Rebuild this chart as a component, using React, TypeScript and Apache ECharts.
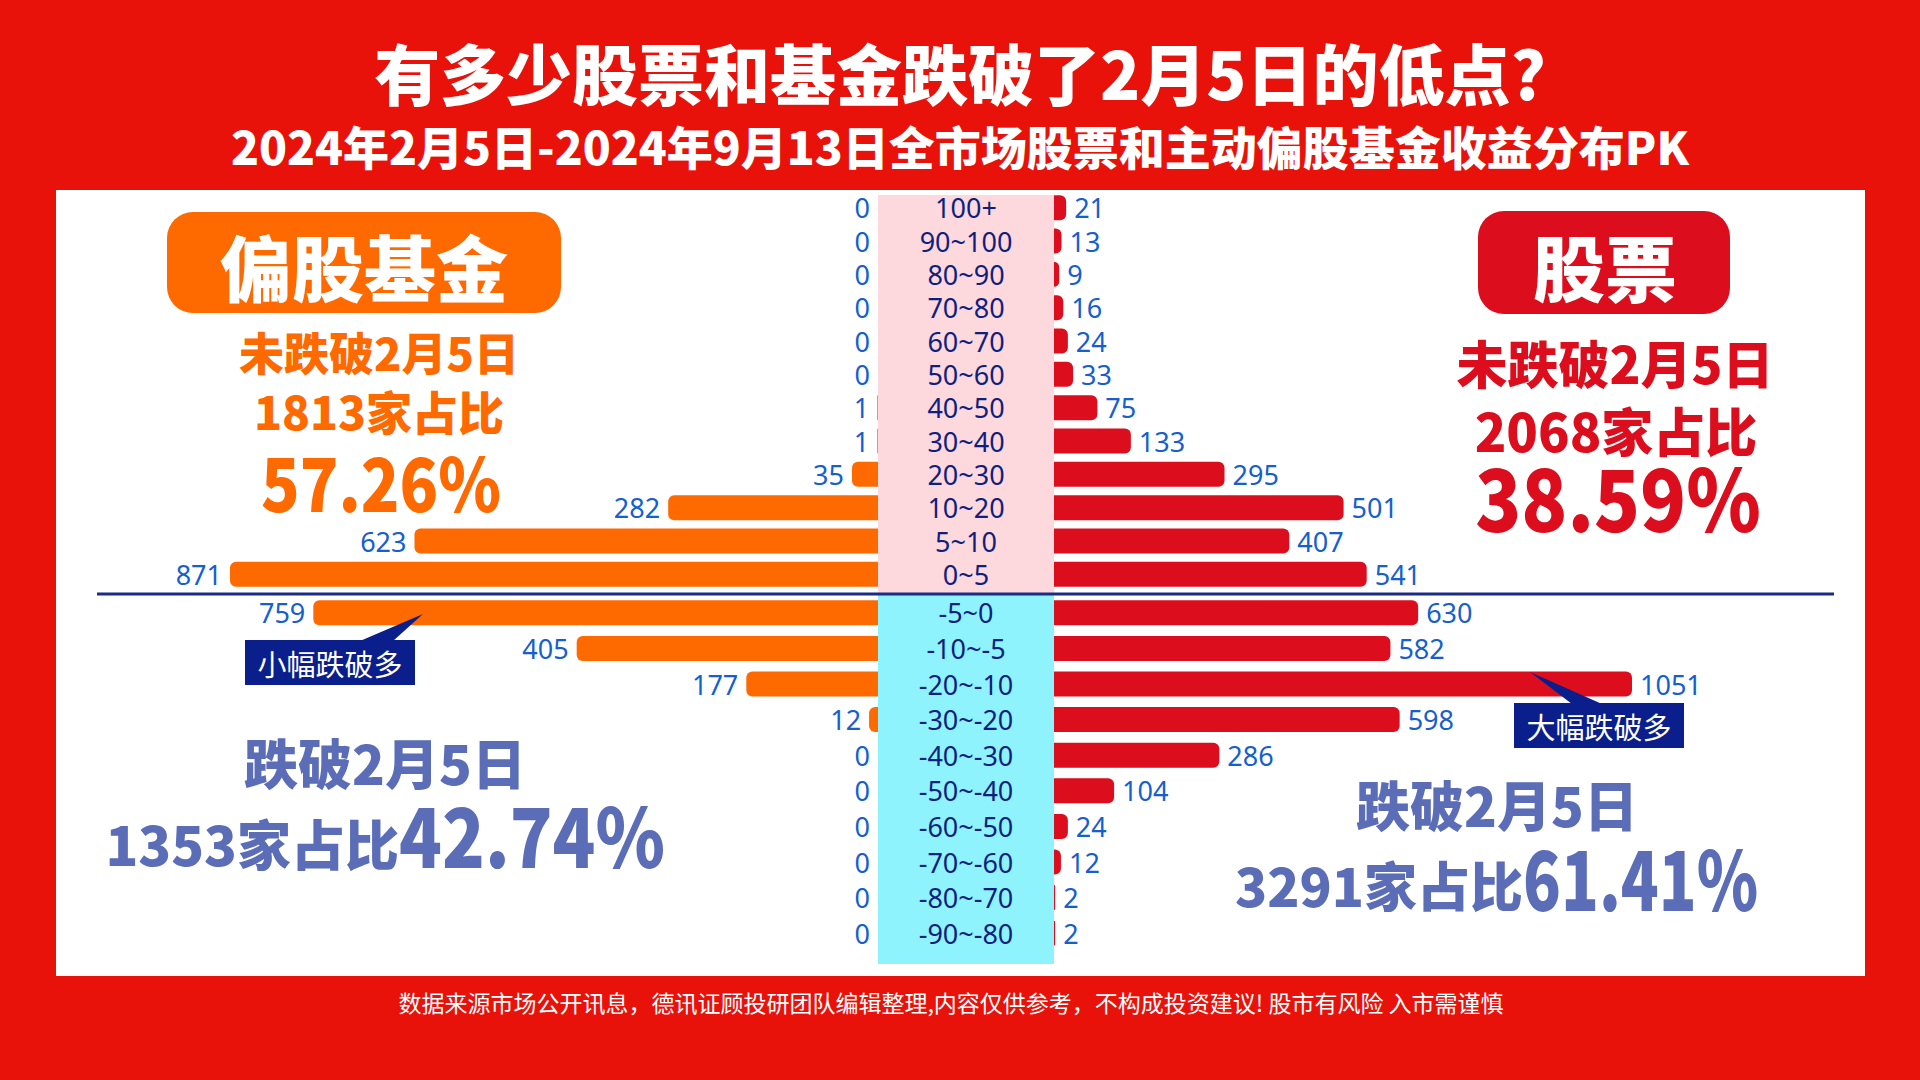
import React, { useEffect, useRef } from "react";
import * as echarts from "echarts";

// ---------- data ----------
const topCategories = ["100+", "90~100", "80~90", "70~80", "60~70", "50~60", "40~50", "30~40", "20~30", "10~20", "5~10", "0~5"];
const bottomCategories = ["-5~0", "-10~-5", "-20~-10", "-30~-20", "-40~-30", "-50~-40", "-60~-50", "-70~-60", "-80~-70", "-90~-80"];
const fundTop = [0, 0, 0, 0, 0, 0, 1, 1, 35, 282, 623, 871];
const stockTop = [21, 13, 9, 16, 24, 33, 75, 133, 295, 501, 407, 541];
const fundBottom = [759, 405, 177, 12, 0, 0, 0, 0, 0, 0];
const stockBottom = [630, 582, 1051, 598, 286, 104, 24, 12, 2, 2];

const titleText = "有多少股票和基金跌破了2月5日的低点?";
const subtitleText = "2024年2月5日-2024年9月13日全市场股票和主动偏股基金收益分布PK";
const footerText = "数据来源市场公开讯息，德讯证顾投研团队编辑整理,内容仅供参考，不构成投资建议! 股市有风险 入市需谨慎";
const fundName = "偏股基金";
const stockName = "股票";
const fundAbove = ["未跌破2月5日", "1813家占比", "57.26%"];
const stockAbove = ["未跌破2月5日", "2068家占比", "38.59%"];
const fundBelow = ["跌破2月5日", "1353家占比", "42.74%"];
const stockBelow = ["跌破2月5日", "3291家占比", "61.41%"];
const noteFund = "小幅跌破多";
const noteStock = "大幅跌破多";

// ---------- styles ----------
const RED_BG = "#E8120A";
const ORANGE = "#FF6A00";
const RED = "#DC0E1E";
const NAVY = "#0A1E8C";
const SLATE = "#5A6DB6";
const LABEL_BLUE = "#1560CC";
const CAT_NAVY = "#0E1F7E";
const CJK = '"Noto Sans CJK SC", "Noto Sans", sans-serif';
const LATIN = '"Noto Sans", "Noto Sans CJK SC", sans-serif';

function txt(text: string, x: number, y: number, size: number, fill: string, opts: any = {}) {
  const align = opts.align || "center";
  return {
    type: "text",
    x,
    y,
    z: opts.z ?? 20,
    scaleX: opts.scaleX ?? 1,
    style: {
      text,
      fill,
      fontSize: size,
      fontWeight: opts.weight ?? 900,
      fontFamily: opts.family ?? CJK,
      align,
      textAlign: align,
      verticalAlign: "middle",
      textVerticalAlign: "middle",
    },
  };
}

function buildOption() {
  const topGrid = { top: 191, height: 400 };
  const botGrid = { top: 595, height: 356 };
  const leftG = { left: 134, right: 1920 - 878 };
  const rightG = { left: 1054, width: 578 };

  const hiddenValue = (gridIndex: number, inverse: boolean) => ({
    type: "value",
    gridIndex,
    min: 0,
    max: 1000,
    inverse,
    show: false,
    splitLine: { show: false },
  });
  const catAxis = (gridIndex: number, data: string[], showLabel: boolean) => ({
    type: "category",
    gridIndex,
    data,
    inverse: true,
    axisLine: { show: false },
    axisTick: { show: false },
    splitLine: { show: false },
    axisLabel: {
      show: showLabel,
      interval: 0,
      align: "center",
      margin: 88,
      fontSize: 27,
      fontFamily: LATIN,
      color: CAT_NAVY,
    },
  });

  const valueLabel = (pos: string) => ({
    show: true,
    position: pos,
    distance: 8,
    color: LABEL_BLUE,
    fontSize: 27,
    fontFamily: LATIN,
  });

  const barSeries = (name: string, data: number[], idx: number, color: string, left: boolean) => ({
    name,
    type: "bar",
    xAxisIndex: idx,
    yAxisIndex: idx,
    data,
    barWidth: 25,
    itemStyle: { color, borderRadius: left ? [6, 0, 0, 6] : [0, 6, 6, 0] },
    label: valueLabel(left ? "left" : "right"),
  });

  const graphic: any[] = [
    // white panel
    { type: "rect", z: -10, shape: { x: 56, y: 190, width: 1809, height: 786 }, style: { fill: "#ffffff" } },
    // centre bands
    { type: "rect", z: -9, shape: { x: 878, y: 195, width: 176, height: 399 }, style: { fill: "#FDD8DD" } },
    { type: "rect", z: -9, shape: { x: 878, y: 594, width: 176, height: 370 }, style: { fill: "#8EF3FC" } },
    // divider
    { type: "line", z: 30, shape: { x1: 97, y1: 594, x2: 1834, y2: 594 }, style: { stroke: "#1B2C85", lineWidth: 3 } },
    // titles
    txt(titleText, 960, 71, 66, "#ffffff"),
    txt(subtitleText, 960, 145, 46, "#ffffff"),
    txt(footerText, 951, 1002, 23, "#ffffff", { weight: 400 }),
    // fund header box
    { type: "rect", z: 10, shape: { x: 167, y: 212, width: 394, height: 101, r: 26 }, style: { fill: ORANGE } },
    txt(fundName, 364, 264, 72, "#ffffff"),
    txt(fundAbove[0], 379, 351, 45, ORANGE),
    txt(fundAbove[1], 379, 410, 46, ORANGE),
    txt(fundAbove[2], 381, 480, 74, ORANGE, { scaleX: 0.86 }),
    // stock header box
    { type: "rect", z: 10, shape: { x: 1478, y: 211, width: 252, height: 103, r: 26 }, style: { fill: RED } },
    txt(stockName, 1605, 264, 72, "#ffffff"),
    txt(stockAbove[0], 1615, 362, 51, RED),
    txt(stockAbove[1], 1616, 429, 52, RED),
    txt(stockAbove[2], 1618, 494, 86, RED, { scaleX: 0.88 }),
    // fund below
    txt(fundBelow[0], 385, 761, 54, SLATE),
    txt(fundBelow[1], 399, 842, 54, SLATE, { align: "right" }),
    txt(fundBelow[2], 399, 832, 82, SLATE, { align: "left", scaleX: 0.86 }),
    // stock below
    txt(stockBelow[0], 1497, 803, 54, SLATE),
    txt(stockBelow[1], 1523, 884, 53, SLATE, { align: "right" }),
    txt(stockBelow[2], 1523, 876, 82, SLATE, { align: "left", scaleX: 0.76 }),
    // annotations
    { type: "polygon", z: 40, shape: { points: [[360, 641], [423, 614], [393, 641]] }, style: { fill: NAVY } },
    { type: "rect", z: 40, shape: { x: 245, y: 640, width: 170, height: 45 }, style: { fill: NAVY } },
    txt(noteFund, 330, 663, 29, "#ffffff", { weight: 400, z: 41 }),
    { type: "polygon", z: 40, shape: { points: [[1530, 672], [1572, 704], [1602, 704]] }, style: { fill: NAVY } },
    { type: "rect", z: 40, shape: { x: 1514, y: 703, width: 170, height: 45 }, style: { fill: NAVY } },
    txt(noteStock, 1599, 726, 29, "#ffffff", { weight: 400, z: 41 }),
  ];

  return {
    animation: false,
    backgroundColor: RED_BG,
    grid: [
      { ...leftG, ...topGrid, containLabel: false, outerBoundsMode: "none" },
      { ...rightG, ...topGrid, containLabel: false, outerBoundsMode: "none" },
      { ...leftG, ...botGrid, containLabel: false, outerBoundsMode: "none" },
      { ...rightG, ...botGrid, containLabel: false, outerBoundsMode: "none" },
    ],
    xAxis: [hiddenValue(0, true), hiddenValue(1, false), hiddenValue(2, true), hiddenValue(3, false)],
    yAxis: [
      catAxis(0, topCategories, false),
      catAxis(1, topCategories, true),
      catAxis(2, bottomCategories, false),
      catAxis(3, bottomCategories, true),
    ],
    series: [
      barSeries("偏股基金(上涨区间)", fundTop, 0, ORANGE, true),
      barSeries("股票(上涨区间)", stockTop, 1, RED, false),
      barSeries("偏股基金(下跌区间)", fundBottom, 2, ORANGE, true),
      barSeries("股票(下跌区间)", stockBottom, 3, RED, false),
    ],
    graphic: { elements: graphic },
  };
}

export default function App() {
  const ref = useRef<HTMLDivElement>(null);
  useEffect(() => {
    if (!ref.current) return;
    const chart = echarts.init(ref.current, null, { renderer: "svg" });
    chart.setOption(buildOption() as any);
    return () => chart.dispose();
  }, []);
  return <div ref={ref} style={{ position: "fixed", left: 0, top: 0, width: 1920, height: 1080 }} />;
}
